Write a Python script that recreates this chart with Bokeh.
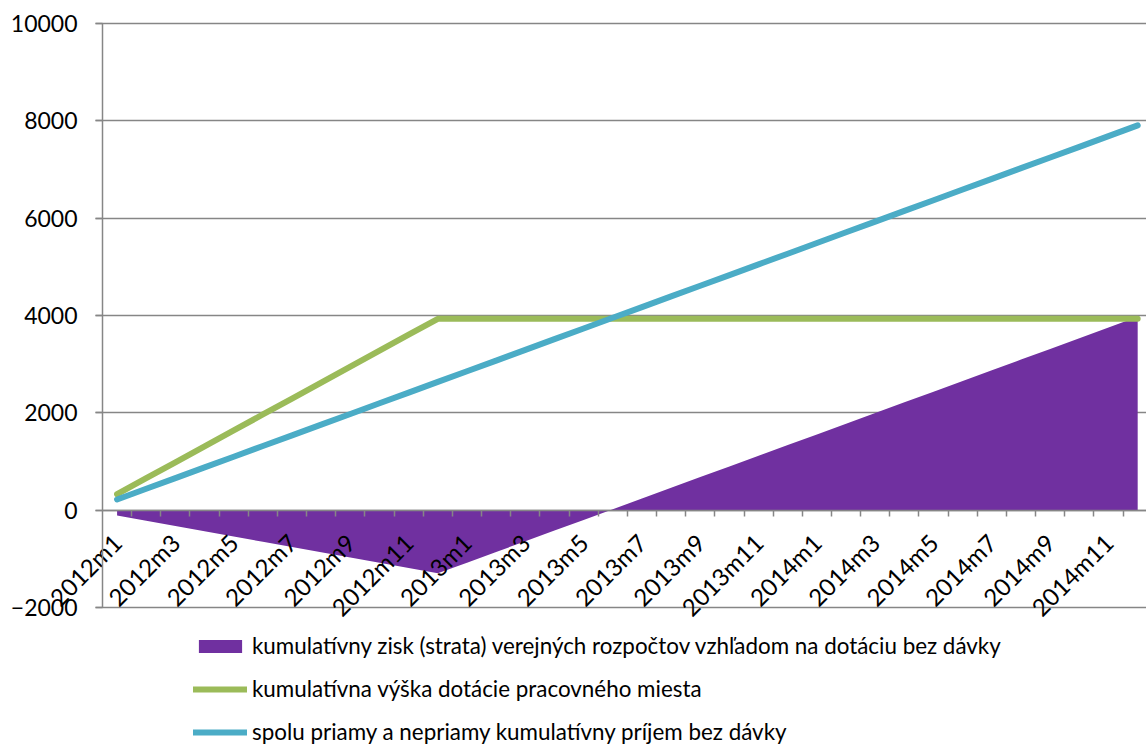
from bokeh.plotting import figure
from bokeh.models import Range1d, FixedTicker, Legend, LegendItem, ColumnDataSource
from bokeh.embed import file_html
from bokeh.resources import INLINE

months = [
    "2012m1", "2012m2", "2012m3", "2012m4", "2012m5", "2012m6",
    "2012m7", "2012m8", "2012m9", "2012m10", "2012m11", "2012m12",
    "2013m1", "2013m2", "2013m3", "2013m4", "2013m5", "2013m6",
    "2013m7", "2013m8", "2013m9", "2013m10", "2013m11", "2013m12",
    "2014m1", "2014m2", "2014m3", "2014m4", "2014m5", "2014m6",
    "2014m7", "2014m8", "2014m9", "2014m10", "2014m11", "2014m12",
]

zisk = [-108, -217, -324, -433, -541, -649, -757, -865, -974, -1082, -1189, -1298,
        -1078, -859, -639, -419, -200, 20, 239, 459, 679, 898, 1118, 1337,
        1557, 1777, 1996, 2216, 2435, 2655, 2875, 3094, 3314, 3533, 3753, 3973]

dotacia = [328, 656, 983, 1311, 1639, 1967, 2294, 2622, 2950, 3278, 3605, 3933,
           3933, 3933, 3933, 3933, 3933, 3933, 3933, 3933, 3933, 3933, 3933, 3933,
           3933, 3933, 3933, 3933, 3933, 3933, 3933, 3933, 3933, 3933, 3933, 3933]

prijem = [220, 439, 659, 878, 1098, 1318, 1537, 1757, 1976, 2196, 2416, 2635,
          2855, 3074, 3294, 3514, 3733, 3953, 4172, 4392, 4612, 4831, 5051, 5270,
          5490, 5710, 5929, 6149, 6368, 6588, 6808, 7027, 7247, 7466, 7686, 7906]

y_ticks = [-2000, 0, 2000, 4000, 6000, 8000, 10000]

series_names = [
    "kumulatívny zisk (strata) verejných rozpočtov vzhľadom na dotáciu bez dávky",
    "kumulatívna výška dotácie pracovného miesta",
    "spolu priamy a nepriamy kumulatívny príjem bez dávky",
]

PURPLE = "#7030A0"
GREEN = "#9BBB59"
BLUE = "#4BACC6"
GRAY = "#868686"
FONT = "Lato"

W, H = 1146, 751
PLOT_LEFT, PLOT_TOP, PLOT_BOTTOM = 102, 23, 607   # pixel geometry of the chart area
CAT_PX = 29.16                                     # pixels per month
Y_MIN, Y_MAX = -2000, 10000
px_per_unit = (PLOT_BOTTOM - PLOT_TOP) / (Y_MAX - Y_MIN)

x_start = -PLOT_LEFT / CAT_PX
x_end = (W - PLOT_LEFT) / CAT_PX
y_top = Y_MAX + PLOT_TOP / px_per_unit
y_bottom = Y_MIN - (H - PLOT_BOTTOM) / px_per_unit

xpos = [i + 0.5 for i in range(len(months))]
src = ColumnDataSource(dict(x=xpos, zisk=zisk, dotacia=dotacia, prijem=prijem, zero=[0] * len(months)))

p = figure(width=W, height=H, output_backend="svg", toolbar_location=None,
           x_range=Range1d(x_start, x_end), y_range=Range1d(y_bottom, y_top))
p.min_border_left = 0
p.min_border_right = 0
p.min_border_top = 0
p.min_border_bottom = 0
p.outline_line_color = None
p.xgrid.grid_line_color = None

tick_len_units = 7 / CAT_PX
grid = p.ygrid[0]
grid.ticker = FixedTicker(ticks=y_ticks)
if "cross_bounds" in grid.properties():
    grid.cross_bounds = (-tick_len_units, x_end)
    grid.grid_line_color = GRAY
    grid.grid_line_width = 1.5
else:
    grid.grid_line_color = None
    p.segment(x0=-tick_len_units, x1=x_end, y0=y_ticks, y1=y_ticks,
              line_color=GRAY, line_width=1.5, level="underlay")

r_area = p.varea(x="x", y1="zero", y2="zisk", source=src, fill_color=PURPLE)
r_green = p.line(x="x", y="dotacia", source=src, line_color=GREEN, line_width=6, line_cap="round", line_join="round")
r_blue = p.line(x="x", y="prijem", source=src, line_color=BLUE, line_width=6, line_cap="round", line_join="round")

yax = p.yaxis[0]
yax.ticker = FixedTicker(ticks=y_ticks)
yax.fixed_location = 0
yax.bounds = (Y_MIN, Y_MAX)
yax.axis_line_color = GRAY
yax.axis_line_width = 1.5
yax.major_tick_line_color = GRAY
yax.major_tick_line_width = 1.5
yax.major_tick_out = 7
yax.major_tick_in = 0
yax.minor_tick_line_color = None
yax.major_label_standoff = 18
yax.major_label_text_font = FONT
yax.major_label_text_font_size = "23px"
yax.major_label_text_color = "black"

xax = p.xaxis[0]
label_pos = [xpos[i] for i in range(0, len(months), 2)]
boundaries = [float(i) for i in range(1, len(months))]
xax.ticker = FixedTicker(ticks=label_pos, minor_ticks=boundaries)
xax.major_label_overrides = {xpos[i]: months[i] for i in range(0, len(months), 2)}
xax.fixed_location = 0
xax.bounds = (0, x_end)
xax.axis_line_color = GRAY
xax.axis_line_width = 1.5
xax.major_tick_line_color = None
xax.minor_tick_line_color = GRAY
xax.minor_tick_line_width = 1.5
xax.minor_tick_out = 6
xax.minor_tick_in = 0
xax.major_label_orientation = 0.785398
xax.major_label_standoff = 22
xax.major_label_text_font = FONT
xax.major_label_text_font_size = "24px"
xax.major_label_text_color = "black"

legend = Legend(items=[
    LegendItem(label=series_names[0], renderers=[r_area]),
    LegendItem(label=series_names[1], renderers=[r_green]),
    LegendItem(label=series_names[2], renderers=[r_blue]),
], location=(193, 6), orientation="vertical")
legend.margin = 0
legend.padding = 0
legend.border_line_color = None
legend.background_fill_alpha = 0
legend.glyph_width = 54
legend.glyph_height = 16
legend.label_standoff = 5
legend.label_height = 20
legend.spacing = 16
legend.label_text_font = FONT
legend.label_text_font_size = "22.4px"
legend.label_text_color = "black"
p.add_layout(legend, "center")

open("out.html", "w").write(file_html(p, INLINE))
